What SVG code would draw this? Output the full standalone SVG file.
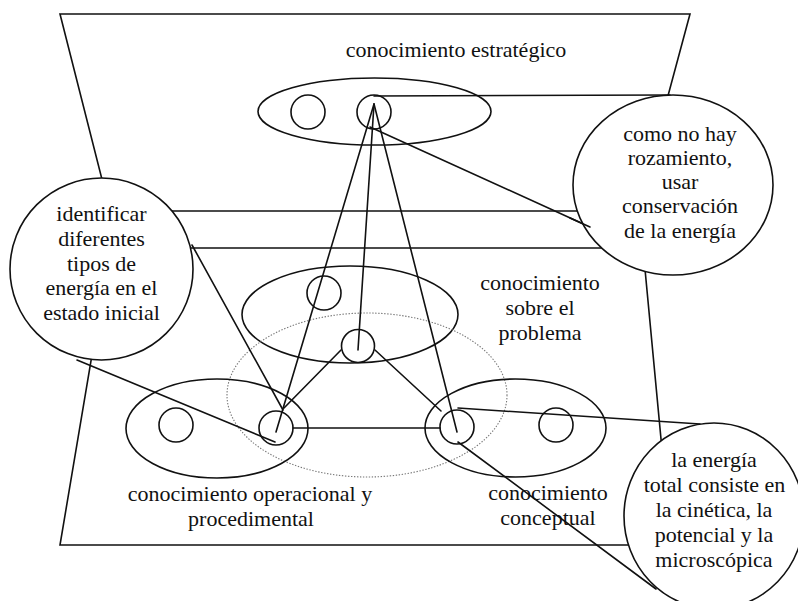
<svg xmlns="http://www.w3.org/2000/svg" width="798" height="601" viewBox="0 0 798 601">
<style>
  .ln{stroke:#111;stroke-width:1.6;fill:none;stroke-linecap:round}
  .sh{stroke:#111;stroke-width:1.6;fill:none}
  .callout{stroke:#111;stroke-width:1.6;fill:#fff}
  .dot{stroke:#777;stroke-width:1.1;fill:none;stroke-dasharray:1.4 1.6}
  text{font-family:"Liberation Serif","Times New Roman",serif;font-size:22px;fill:#111;text-anchor:middle}
</style>
<rect width="798" height="601" fill="#fff"/>
<g id="planes">
  <polygon class="sh" points="60,14 690,14 637,211 110,211"/>
  <polygon class="sh" points="110,248 643,248 671,545 60,545"/>
</g>
<g id="levels">
  <g id="strategic">
    <ellipse class="sh" cx="374.5" cy="111.5" rx="116.5" ry="33.5"/>
    <circle class="sh" cx="308" cy="112" r="17"/>
    <circle class="sh" cx="374" cy="112" r="17"/>
    <text x="456" y="57">conocimiento estratégico</text>
  </g>
  <g id="problem">
    <ellipse class="sh" cx="350" cy="314.5" rx="108" ry="48.5"/>
    <circle class="sh" cx="324" cy="293" r="17"/>
    <circle class="sh" cx="358" cy="346" r="16.5"/>
    <text x="540" y="290">conocimiento</text>
    <text x="540" y="315">sobre el</text>
    <text x="540" y="340">problema</text>
  </g>
  <g id="situation">
    <ellipse class="dot" cx="367" cy="395" rx="140" ry="82"/>
  </g>
  <g id="operational">
    <ellipse class="sh" cx="217" cy="428.5" rx="91" ry="49.5"/>
    <circle class="sh" cx="176" cy="425" r="17"/>
    <circle class="sh" cx="276" cy="428" r="17"/>
    <text x="250" y="501">conocimiento operacional y</text>
    <text x="251" y="526">procedimental</text>
  </g>
  <g id="conceptual">
    <ellipse class="sh" cx="515.5" cy="428" rx="90.5" ry="49"/>
    <circle class="sh" cx="457" cy="427" r="17"/>
    <circle class="sh" cx="556" cy="425" r="17"/>
    <text x="548" y="500">conocimiento</text>
    <text x="548" y="525">conceptual</text>
  </g>
</g>
<g id="connectors">
  <line class="ln" x1="374" y1="104" x2="276" y2="432"/>
  <line class="ln" x1="374" y1="104" x2="358" y2="350"/>
  <line class="ln" x1="374" y1="104" x2="457" y2="432"/>
  <line class="ln" x1="341" y1="350" x2="284" y2="408"/>
  <line class="ln" x1="375" y1="350" x2="441" y2="411"/>
  <line class="ln" x1="293" y1="428" x2="440" y2="428"/>
  <line class="ln" x1="374" y1="96" x2="670" y2="95"/>
  <line class="ln" x1="370" y1="127" x2="590" y2="227"/>
  <line class="ln" x1="192" y1="245" x2="283" y2="410"/>
  <line class="ln" x1="77" y1="360" x2="275" y2="442"/>
  <line class="ln" x1="458" y1="408" x2="700" y2="424"/>
  <line class="ln" x1="458" y1="442" x2="656" y2="589"/>
</g>
<g id="note-identificar">
  <ellipse class="callout" cx="101.5" cy="269" rx="91.5" ry="91"/>
  <text x="101.5" y="221">identificar</text>
  <text x="101.5" y="246">diferentes</text>
  <text x="101.5" y="270.5">tipos de</text>
  <text x="101.5" y="295">energía en el</text>
  <text x="101.5" y="320">estado inicial</text>
</g>
<g id="note-rozamiento">
  <ellipse class="callout" cx="673" cy="185" rx="100" ry="90"/>
  <text x="680" y="141">como no hay</text>
  <text x="680" y="165">rozamiento,</text>
  <text x="680" y="189">usar</text>
  <text x="680" y="213">conservación</text>
  <text x="680" y="237.5">de la energía</text>
</g>
<g id="note-energia">
  <ellipse class="callout" cx="714" cy="516" rx="90" ry="93"/>
  <text x="714" y="467">la energía</text>
  <text x="714.5" y="492">total consiste en</text>
  <text x="714" y="517">la cinética, la</text>
  <text x="714" y="542">potencial y la</text>
  <text x="714" y="567">microscópica</text>
</g>
<g id="connector-tips">
  <line class="ln" x1="570" y1="218" x2="590" y2="227"/>
</g>
</svg>
